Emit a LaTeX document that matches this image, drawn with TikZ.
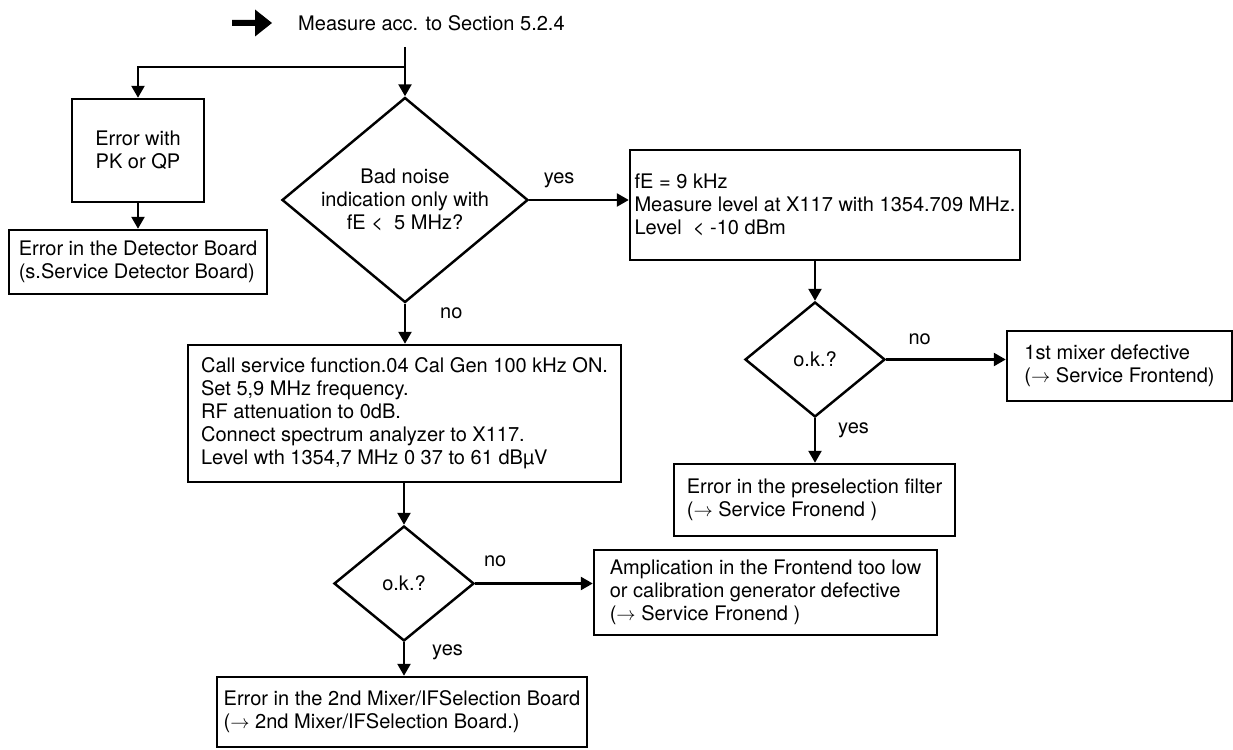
\documentclass[tikz,border=0pt]{standalone}
\usepackage{fontspec}
\setmainfont{TeX Gyre Heros}
\usetikzlibrary{arrows.meta, shapes.geometric}

\begin{document}
\begin{tikzpicture}[
  font=\fontsize{11.4}{13.1}\selectfont,
  line width=1.4pt,
  box/.style={draw, align=left, inner sep=0pt},
  decision/.style={draw, diamond, inner sep=0pt, align=center},
  flow/.style={-{Triangle[length=0.24cm, width=0.26cm]}},
  lbl/.style={inner sep=0pt}
]
  \useasboundingbox (0,0) rectangle (24.66,14.98);
  % Start marker and heading
  \fill (4.64,14.46) -- (5.1,14.46) -- (5.1,14.25) -- (5.44,14.52)
    -- (5.1,14.79) -- (5.1,14.58) -- (4.64,14.58) -- cycle;
  \node[lbl, anchor=west] (start) at (5.94,14.52) {Measure acc. to Section 5.2.4};
  \coordinate (top) at (8.1,14.04);
  \coordinate (split) at (8.1,13.64);
  % Left branch
  \node[box, align=center, minimum width=2.64cm, minimum height=2.06cm] (pk)
    at (2.76,11.97) {Error with\\PK or QP};
  \node[box, minimum width=5.16cm, minimum height=1.28cm] (det)
    at (2.76,9.74) {Error in the Detector Board\\(s.Service Detector Board)};
  % First decision
  \node[decision, aspect=1.2, minimum width=4.92cm, minimum height=4.1cm] (q1)
    at (8.1,10.98) {Bad noise\\indication only with\\fE < \ 5 MHz?};
  % Right branch
  \node[box, minimum width=7.8cm, minimum height=2.2cm] (fe)
    at (16.5,10.88) {fE = 9 kHz\\Measure level at X117 with 1354.709 MHz.\\Level \ < -10 dBm};
  \node[decision, minimum width=2.8cm, minimum height=2.3cm] (q2)
    at (16.3,7.79) {o.k.?};
  \node[box, minimum width=4.5cm, minimum height=1.4cm] (mix1)
    at (22.39,7.66) {1st mixer defective\\($\rightarrow$ Service Frontend)};
  \node[box, minimum width=5.62cm, minimum height=1.44cm] (pre)
    at (16.29,4.98) {Error in the preselection filter\\($\rightarrow$ Service Fronend )};
  % Lower branch
  \node[box, minimum width=8.66cm, minimum height=2.74cm] (call)
    at (8.09,6.71) {Call service function.04 Cal Gen 100 kHz ON.\\Set 5,9 MHz frequency.\\RF attenuation to 0dB.\\Connect spectrum analyzer to X117.\\Level wth 1354,7 MHz 0 37 to 61 dBµV};
  \node[decision, minimum width=2.8cm, minimum height=2.3cm] (q3)
    at (8.08,3.31) {o.k.?};
  \node[box, minimum width=6.86cm, minimum height=1.7cm] (amp)
    at (15.31,3.13) {Amplication in the Frontend too low\\or calibration generator defective\\($\rightarrow$ Service Fronend )};
  \node[box, minimum width=7.4cm, minimum height=1.4cm] (mix2)
    at (8.04,0.74) {Error in the 2nd Mixer/IFSelection Board\\($\rightarrow$ 2nd Mixer/IFSelection Board.)};
  % Connectors
  \draw[flow] (top) -- (q1.north);
  \draw[flow] (split) -| (pk.north);
  \draw[flow] (pk) -- (det);
  \draw[flow] (q1.east) -- (q1.east -| fe.west)
    node[lbl, pos=0.3, above=0.21cm] {yes};
  \draw[flow] (q1.south) -- (q1.south |- call.north)
    node[lbl, pos=0.23, right=0.68cm] {no};
  \draw[flow] (fe.south -| q2.north) -- (q2.north);
  \draw[flow] (q2.east) -- (q2.east -| mix1.west)
    node[lbl, pos=0.28, above=0.275cm] {no};
  \draw[flow] (q2.south) -- (q2.south |- pre.north)
    node[lbl, pos=0.26, right=0.44cm] {yes};
  \draw[flow] (call.south -| q3.north) -- (q3.north);
  \draw[flow] (q3.east) -- (q3.east -| amp.west)
    node[lbl, pos=0.17, above=0.31cm] {no};
  \draw[flow] (q3.south) -- (q3.south |- mix2.north)
    node[lbl, pos=0.3, right=0.54cm] {yes};
\end{tikzpicture}
\end{document}
